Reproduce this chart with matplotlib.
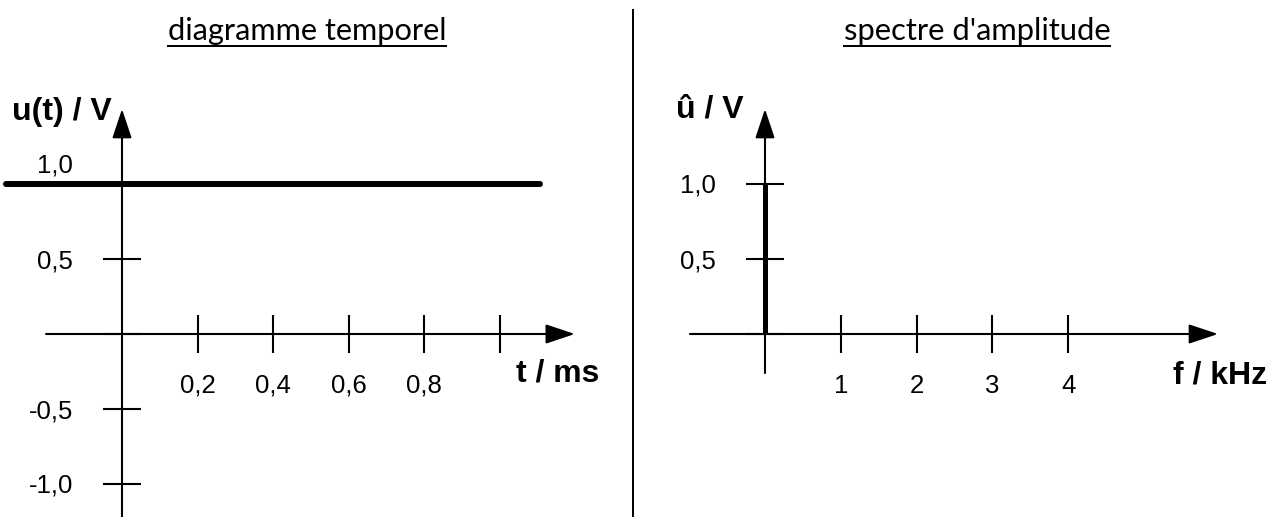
import matplotlib
matplotlib.use("Agg")
import matplotlib.pyplot as plt
from matplotlib.lines import Line2D

# ---------------- data ----------------
t_ticks = [0.2, 0.4, 0.6, 0.8, 1.0]
t_labels = ["0,2", "0,4", "0,6", "0,8", ""]
u_ticks = [1.0, 0.5, 0.0, -0.5, -1.0]
u_labels = ["1,0", "0,5", "", "-0,5", "-1,0"]
signal_t = [-0.307, 1.105]
signal_u = [1.0, 1.0]

f_ticks = [1, 2, 3, 4]
f_labels = ["1", "2", "3", "4"]
a_ticks = [1.0, 0.5, 0.0]
a_labels = ["1,0", "0,5", ""]
spec_f = [0.0]
spec_a = [1.0]

title_left = "diagramme temporel"
title_right = "spectre d'amplitude"
ylabel_left = "u(t) / V"
xlabel_left = "t / ms"
ylabel_right = "û / V"
xlabel_right = "f / kHz"

# ---------------- layout ----------------
W, H, DPI = 1278, 517, 100
PT = 72.0 / DPI  # points per pixel
fig = plt.figure(figsize=(W / DPI, H / DPI), dpi=DPI)
fig.patch.set_facecolor("white")

SANS = ["Liberation Sans", "DejaVu Sans"]
TITLE_FONT = ["Lato", "DejaVu Sans"]
TICK_FS = 18.5
Y0PX = 334      # pixel row of the value 0
YSCALE = 150.0  # px per volt


def make_axes(x0px, x1px, origin_px, xscale):
    ax = fig.add_axes([x0px / W, 0, (x1px - x0px) / W, 1])
    ax.set_xlim((x0px - origin_px) / xscale, (x1px - origin_px) / xscale)
    ax.set_ylim(-(H - Y0PX) / YSCALE, Y0PX / YSCALE)
    ax.axis("off")
    return ax


def arrow(ax, start, end):
    ax.annotate("", xy=end, xytext=start,
                arrowprops=dict(arrowstyle="-|>,head_length=1.8,head_width=0.6",
                                mutation_scale=10, lw=1.5, color="black",
                                shrinkA=0, shrinkB=0))


def draw_panel(ax, x_from, x_to, y_from, xt, xl, yt, yl, yl_dy):
    arrow(ax, (x_from, 0), (x_to, 0))
    arrow(ax, (0, y_from), (0, 1.5))
    ax.plot(xt, [0] * len(xt), ls="none", marker="|", ms=38 * PT, mew=1.5, color="black")
    ax.plot([0] * len(yt), yt, ls="none", marker="_", ms=38 * PT, mew=1.5, color="black")
    for v, s in zip(xt, xl):
        if s:
            ax.annotate(s, (v, 0), xytext=(0, -59 * PT), textcoords="offset points",
                        ha="center", va="baseline", fontsize=TICK_FS, family=SANS)
    for v, s, dy in zip(yt, yl, yl_dy):
        if s:
            ax.annotate(s, (0, v), xytext=(-49 * PT, dy * PT), textcoords="offset points",
                        ha="right", va="baseline", fontsize=TICK_FS, family=SANS)


# left panel: time diagram
axL = make_axes(0, 633, 122, 378.0)
draw_panel(axL, -0.201, 1.198, -1.25, t_ticks, t_labels, u_ticks, u_labels,
           [11, -9, -9, -9, -9])
axL.plot(signal_t, signal_u, color="black", lw=6 * PT, solid_capstyle="round")

# right panel: amplitude spectrum
axR = make_axes(633, W, 765, 75.8)
draw_panel(axR, -0.99, 5.976, -0.26, f_ticks, f_labels, a_ticks, a_labels,
           [-9, -9, -9])
axR.vlines(spec_f, 0, spec_a, color="black", lw=5 * PT)

# axis names
fig.text(12 / W, 1 - 120 / H, ylabel_left, ha="left", va="baseline",
         fontsize=23, fontweight="bold", family=SANS)
fig.text(516 / W, 1 - 382 / H, xlabel_left, ha="left", va="baseline",
         fontsize=23, fontweight="bold", family=SANS)
fig.text(676 / W, 1 - 118 / H, ylabel_right, ha="left", va="baseline",
         fontsize=23, fontweight="bold", family=SANS)
fig.text(1173 / W, 1 - 383 / H, xlabel_right, ha="left", va="baseline",
         fontsize=23, fontweight="bold", family=SANS)

# divider
fig.add_artist(Line2D([633 / W, 633 / W], [0, 1 - 10 / H], transform=fig.transFigure,
                      color="black", lw=2 * PT))

# underlined titles, sized to the reference widths
titles = []
for cx, s, width_px in [(307, title_left, 280), (977, title_right, 267)]:
    t = fig.text(cx / W, 1 - 40 / H, s, ha="center", va="baseline",
                 fontsize=20, family=TITLE_FONT)
    titles.append((t, width_px))
fig.canvas.draw()
renderer = fig.canvas.get_renderer()
for t, width_px in titles:
    bb = t.get_window_extent(renderer)
    t.set_fontsize(20 * width_px / bb.width)
fig.canvas.draw()
for t, _ in titles:
    bb = t.get_window_extent(renderer)
    fig.add_artist(Line2D([bb.x0 / W, bb.x1 / W], [1 - 46 / H, 1 - 46 / H],
                          transform=fig.transFigure, color="black", lw=2 * PT))

fig.savefig("out.png", dpi=DPI, facecolor="white")
